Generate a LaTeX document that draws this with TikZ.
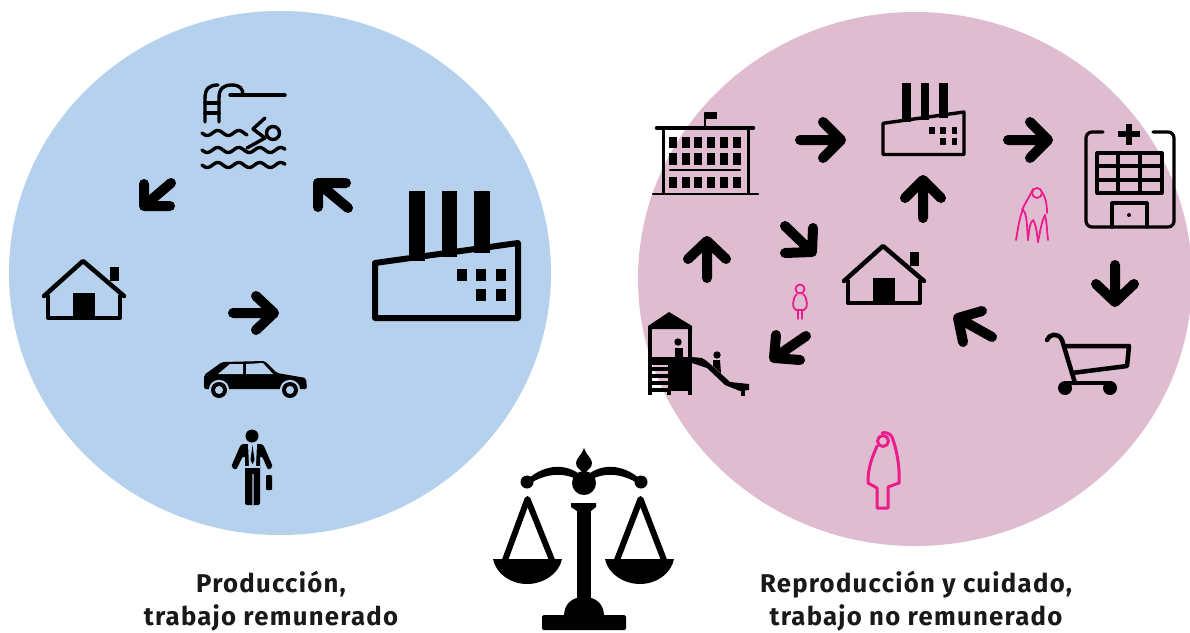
\documentclass[tikz,border=0pt]{standalone}
\usepackage{fontspec}
\newfontfamily\lab[LetterSpace=5]{Fira Sans}
\definecolor{bluedisc}{HTML}{B5D1ED}
\definecolor{pinkdisc}{HTML}{E0BCD0}
\definecolor{magentafig}{HTML}{EC1C8C}
\tikzset{
  arrowicon/.style={draw=black,line width=10pt,line cap=round,line join=round},
  iconline/.style={draw=black,line cap=round,line join=round},
  figline/.style={draw=magentafig,line join=round,line cap=round},
  labeltext/.style={align=center,font=\lab\bfseries\fontsize{25.7}{33}\selectfont,text=black!90}
}
\newcommand\arrowic[4]{\draw[arrowicon] #1 -- #2 #3 -- #2 -- #4;}
\newcommand\houseic[2]{%
  \begin{scope}[shift={(#1,#2)}]
    \fill (110,267) rectangle (119,281);
    \draw[iconline,line width=4pt] (48,296) -- (48,318) -- (120,318) -- (120,296);
    \draw[iconline,line width=4.5pt] (44,296) -- (83,261) -- (124,296);
    \fill (73,293) rectangle (95,318);
  \end{scope}}
\newcommand\factoryic[4]{%
  \begin{scope}[shift={(#1,#2)},scale=#3]
    \fill (34,-52) rectangle (50,18);
    \fill (67,-52) rectangle (82,14);
    \fill (99,-52) rectangle (115,10);
    \draw[iconline,line width=#4] (0,20) -- (143,0) -- (143,75) -- (0,75) -- cycle;
    \foreach \xx in {82,101,121} \fill (\xx,26) rectangle ++(10,12);
    \foreach \xx in {101,121} \fill (\xx,46) rectangle ++(10,12);
  \end{scope}}
\begin{document}
\begin{tikzpicture}[x=1pt,y=-1pt]
\useasboundingbox (0,0) rectangle (1190,632);
\fill[white] (0,0) rectangle (1190,632);
\fill[bluedisc] (280,273) ellipse [x radius=271,y radius=262];
\begin{scope}
  \clip (0,0) rectangle (1190,632);
  \fill[pinkdisc] (915,279) ellipse [x radius=277,y radius=267];
\end{scope}

%%% arrows, blue disc
\arrowic{(171,183)}{(144,206)}{(144,184)}{(170,206)}
\arrowic{(348,208)}{(318,183)}{(346,183)}{(318,207)}
\arrowic{(233,313)}{(274,313)}{(256,296)}{(256,330)}
%%% arrows, pink disc
\arrowic{(800,140)}{(841,140)}{(823,122)}{(823,158)}
\arrowic{(1008,140)}{(1048,140)}{(1030,122)}{(1030,158)}
\arrowic{(923,218)}{(923,180)}{(905,198)}{(941,198)}
\arrowic{(1115,265)}{(1115,302)}{(1096,284)}{(1134,284)}
\arrowic{(707,278)}{(707,241)}{(688,259)}{(726,259)}
\arrowic{(785,226)}{(812,252)}{(813,228)}{(785,253)}
\arrowic{(806,336)}{(774,358)}{(776,335)}{(800,360)}
\arrowic{(992,337)}{(958,318)}{(982,311)}{(963,342)}

%%% houses
\houseic{0}{0}
\houseic{800}{-15}

%%% factories
\factoryic{375}{243}{1}{6pt}
\factoryic{883}{112}{0.566}{3.4pt}

%%% pool and swimmer
\begin{scope}[iconline,line width=3.4pt]
  \draw (205,122) -- (205,98) .. controls (205,88) and (210,85) .. (218,85);
  \draw (219,122) -- (219,98) .. controls (219,88) and (224,85) .. (232,85) .. controls (240,85) and (243,89) .. (243,95);
  \draw (230,95) -- (285,95);
  \draw (205,103) -- (219,103);
  \draw (205,113) -- (219,113);
  \draw (273,133) circle (6.5);
  \draw (265,118) -- (253,129) -- (265,138) -- (247,148);
  \draw plot[domain=0:45,samples=40] ({202+\x},{133+2.5*sin(\x*17.14)});
  \draw plot[domain=0:83,samples=70] ({202+\x},{150+2.5*sin(\x*17.14)});
  \draw plot[domain=0:83,samples=70] ({202+\x},{165+2.5*sin(\x*17.14)});
\end{scope}

%%% car
\fill[rounded corners=2pt] (204,389) -- (204,375) -- (222,362) -- (265,361) -- (277,373) -- (306,378) -- (307,389) -- cycle;
\fill[bluedisc] (218,374) -- (230,364) -- (243,364) -- (243,374) -- cycle;
\fill[bluedisc] (246,364) -- (263,363) -- (273,374) -- (246,374) -- cycle;
\foreach \wx in {219,290}{
  \fill[bluedisc] (\wx,390) circle (10.2);
  \fill[black] (\wx,390) circle (8);
  \fill[bluedisc] (\wx,390) circle (4);
}

%%% businessman
\fill (252,436) circle (6.5);
\fill[rounded corners=2pt] (241,444) -- (263,444) -- (273,467) -- (268,470) -- (262,456) -- (260,456) -- (260,505) -- (245,505) -- (245,456) -- (243,456) -- (236,470) -- (231,467) -- cycle;
\fill[bluedisc] (248,444) -- (257,444) -- (256,466) -- (249,466) -- cycle;
\fill (252.5,445) -- (254.5,460) -- (252.5,464) -- (250.5,460) -- cycle;
\fill[bluedisc] (245,466) rectangle (260,468);
\fill[bluedisc!65!black] (251.5,474) rectangle (254,505);
\fill[rounded corners=1pt] (266,475) rectangle (272,490);

%%% balance
\fill (584,448) .. controls (586,455) and (592,458) .. (592,463) .. controls (592,468) and (588,469) .. (584,474) .. controls (580,469) and (576,468) .. (576,463) .. controls (576,458) and (582,455) .. (584,448) -- cycle;
\fill (584,483) circle (12);
\fill (527,480) .. controls (537,470) and (558,460) .. (578,473) -- (578,480) .. controls (560,470) and (540,476) .. (528,485) -- cycle;
\fill (641,480) .. controls (631,470) and (610,460) .. (590,473) -- (590,480) .. controls (608,470) and (628,476) .. (640,485) -- cycle;
\fill (527,482) circle (6.5);
\fill (641,482) circle (6.5);
\fill (571,503) -- (596,503) -- (596,507) -- (591,511) -- (577,511) -- (571,507) -- cycle;
\fill (577,510) rectangle (591,600);
\fill (564,616) .. controls (564,604) and (572,597) .. (584,597) .. controls (596,597) and (604,604) .. (604,616) -- cycle;
\fill[rounded corners=1.5pt] (542,615) rectangle (626,630);
\draw[iconline,line width=6pt,line cap=butt] (505,560) -- (527.5,499) -- (552,560);
\draw[iconline,line width=6pt,line cap=butt] (617,560) -- (640.5,499) -- (664,560);
\fill (493,559) -- (562,559) .. controls (559,574) and (543,584) .. (527,584) .. controls (511,584) and (496,574) .. (493,559) -- cycle;
\fill (605,559) -- (674,559) .. controls (671,574) and (656,584) .. (640,584) .. controls (624,584) and (608,574) .. (605,559) -- cycle;

%%% school
\begin{scope}[iconline]
  \draw[line width=4.5pt] (657,128) -- (753,128);
  \draw[line width=2.5pt] (705,127) -- (705,113);
  \fill (705,112) rectangle (717,119);
  \draw[line width=3pt] (663,128) -- (663,193);
  \draw[line width=3pt] (748,128) -- (748,193);
  \draw[line width=2.5pt] (653,194) -- (758,194);
  \draw[line width=2.2pt] (670,170) -- (740,170);
  \foreach \cx in {673,686,698,711,724,737}{
    \fill (\cx-4,137) rectangle (\cx+4,148);
    \fill (\cx-4,153) rectangle (\cx+4,165);
    \fill (\cx-4,177) rectangle (\cx+4,188);
  }
\end{scope}

%%% hospital
\begin{scope}[iconline,line width=3.2pt]
  \draw[rounded corners=6pt] (1103,132) -- (1086,132) -- (1086,227) -- (1174,227) -- (1174,132) -- (1153,132);
  \draw[line width=6pt,line cap=butt] (1129,124) -- (1129,145) (1118,134) -- (1140,134);
  \draw (1097,153) rectangle (1162,193);
  \draw (1097,166) -- (1162,166) (1097,180) -- (1162,180);
  \draw (1118,153) -- (1118,193) (1140,153) -- (1140,193);
  \draw (1112,227) -- (1112,203) -- (1147,203) -- (1147,227);
  \fill (1129,215) circle (2);
\end{scope}

%%% shopping cart
\begin{scope}[iconline,line width=4.5pt]
  \draw (1047,340) .. controls (1049,334) and (1058,332) .. (1062,340) -- (1072,373) -- (1075,383);
  \draw (1064,346) -- (1129,346) -- (1127,366) -- (1072,373);
  \draw (1067,383) -- (1110,383);
  \fill (1065,388) circle (7);
  \fill (1110,388) circle (7);
\end{scope}

%%% playground
\fill (669,312) -- (692,326) -- (692,329) -- (648,329) -- (648,326) -- cycle;
\fill (648,327) rectangle (652,395);
\fill (688,327) rectangle (692,395);
\fill (650,357) rectangle (692,365);
\fill (668,357) rectangle (692,391);
\fill (667,390) rectangle (671,395);
\foreach \ry in {369,376,383,390} \fill (650,\ry-1.6) rectangle (668,\ry+1.6);
\fill (678,342) circle (3.7);
\fill (675,348) rectangle (683,360);
\fill (692,357) -- (702,358) .. controls (709,362) and (712,366) .. (717,370) -- (730,382) -- (749,384) -- (749,390) -- (740,391) -- (725,385) -- (707,368) -- (692,363) -- cycle;
\fill (741,390) rectangle (745,396);
\fill (717,355) circle (3.7);
\fill (713,360) -- (720,360) -- (721,373) -- (713,366) -- cycle;

%%% magenta figures
\begin{scope}[figline,line width=1.8pt]
  \draw (800,289) circle (4.5);
  \draw (797,294) .. controls (792,298) and (792,309) .. (796,310) -- (804,310) .. controls (808,309) and (808,298) .. (803,294);
  \draw (798,310) -- (798,319) (802,310) -- (802,319);
  \draw (1037,193) circle (5);
  \draw (1033,189) .. controls (1030,196) and (1025,203) .. (1022,210);
  \draw (1042,192) .. controls (1046,198) and (1047,205) .. (1047,213);
  \draw (1016,240) .. controls (1018,228) and (1020,215) .. (1023,210) .. controls (1027,213) and (1027,228) .. (1028,240);
  \draw (1028,240) .. controls (1029,230) and (1030,222) .. (1033,220) .. controls (1036,224) and (1037,234) .. (1038,242);
  \draw (1038,242) .. controls (1040,232) and (1042,220) .. (1045,215) .. controls (1047,224) and (1047,232) .. (1048,240);
\end{scope}
\begin{scope}[figline,line width=3pt]
  \draw (883,441) circle (5.5);
  \draw (877,446) .. controls (873,456) and (868,465) .. (868,483) -- (877,488) -- (877,508) -- (888,508) -- (888,487) -- (899,483) .. controls (900,468) and (897,450) .. (892,437) .. controls (890,433) and (885,432) .. (882,433);
\end{scope}

%%% labels
\node[labeltext] (prod) at (271,601) {Producción,\\trabajo remunerado};
\node[labeltext] (repr) at (916,601) {Reproducción y cuidado,\\trabajo no remunerado};
\end{tikzpicture}
\end{document}
